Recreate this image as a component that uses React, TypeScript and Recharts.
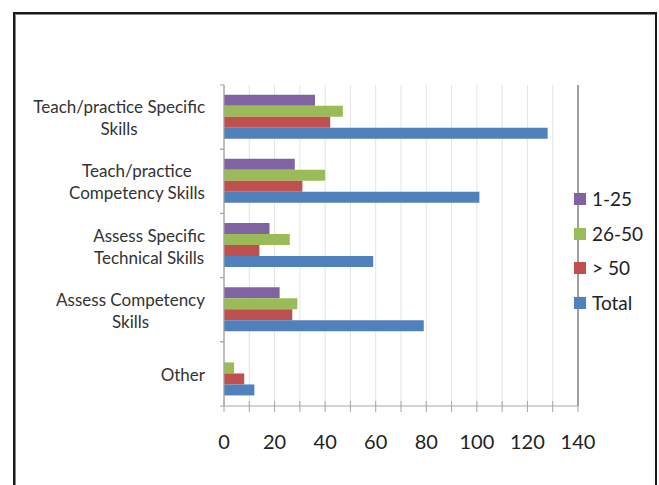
import React from 'react'
import { BarChart, Bar, XAxis, YAxis, CartesianGrid, ReferenceLine, Legend } from 'recharts'

// category labels, line breaks as in the original chart
const categories = [
  'Teach/practice Specific\nSkills',
  'Teach/practice\nCompetency Skills',
  'Assess Specific\nTechnical Skills',
  'Assess Competency\nSkills',
  'Other',
]

const seriesNames = ['1-25', '26-50', '> 50', 'Total']
const group1to25 = [36, 28, 18, 22, 0]
const group26to50 = [47, 40, 26, 29, 4]
const groupOver50 = [42, 31, 14, 27, 8]
const totals = [128, 101, 59, 79, 12]

const xTicks = [0, 10, 20, 30, 40, 50, 60, 70, 80, 90, 100, 110, 120, 130, 140]
const xMajorTicks = [0, 20, 40, 60, 80, 100, 120, 140]

const colors = ['#8064A2', '#9BBB59', '#C0504D', '#4F81BD']
const FONT = 'Lato, "Open Sans", sans-serif'

const chartData = categories.map((name, i) => ({
  name,
  s0: group1to25[i],
  s1: group26to50[i],
  s2: groupOver50[i],
  s3: totals[i],
}))

if (typeof document !== 'undefined') document.body.style.margin = '0'

let ctx: CanvasRenderingContext2D | null = null
const measure = (text: string, size: number) => {
  if (!ctx) ctx = document.createElement('canvas').getContext('2d')
  if (!ctx) return text.length * size * 0.5
  ctx.font = `${size}px Lato`
  return ctx.measureText(text).width
}

const CategoryTick = (props: any) => {
  const { x, y, payload } = props
  const lines = String(payload.value).split('\n')
  const size = 17
  const w = Math.max(...lines.map((l) => measure(l, size)))
  const cx = x - w / 2
  const lh = 22
  const half = 32.2 // half of a category band, for the boundary tick marks
  return (
    <g>
      <line x1={224 - 4} x2={224} y1={y - half} y2={y - half} stroke="#A6A6A6" />
      <line x1={224 - 4} x2={224} y1={y + half} y2={y + half} stroke="#A6A6A6" />
      {lines.map((l, i) => (
        <text
          key={i}
          x={cx}
          y={y + (i - (lines.length - 1) / 2) * lh + 7}
          textAnchor="middle"
          fontSize={size}
          fontFamily={FONT}
          fill="#333"
        >
          {l}
        </text>
      ))}
    </g>
  )
}

const ValueTick = (props: any) => {
  const { x, y, payload } = props
  const axisY = y - 8
  const v = payload.value
  return (
    <g>
      <line x1={x} x2={x} y1={axisY - 5} y2={axisY + 6} stroke="#A6A6A6" />
      {v % 20 === 0 && (
        <text x={x} y={axisY + 43} textAnchor="middle" fontSize={20} fontFamily={FONT} fill="#222">
          {v}
        </text>
      )}
    </g>
  )
}

const renderLegend = (props: any) => (
  <div>
    {(props.payload || []).map((entry: any) => (
      <div key={entry.value} style={{ display: 'flex', alignItems: 'center', height: 34.5 }}>
        <span style={{ display: 'inline-block', width: 12, height: 12, background: entry.color, marginRight: 6 }} />
        <span style={{ fontSize: 19, fontFamily: FONT, color: '#222', lineHeight: '20px' }}>{entry.value}</span>
      </div>
    ))}
  </div>
)

export default function App() {
  return (
    <div style={{ position: 'relative', width: 659, height: 485, background: '#fff', overflow: 'hidden' }}>
      <div
        style={{
          position: 'absolute',
          left: 13,
          top: 12,
          width: 640,
          height: 520,
          border: '2px solid #1a1a1a',
          boxShadow: 'inset 1px 1px 0 #888',
        }}
      />
      <div style={{ position: 'absolute', left: 0, top: 0 }}>
        <BarChart
          width={659}
          height={485}
          data={chartData}
          layout="vertical"
          margin={{ top: 85, right: 81, bottom: 39, left: 0 }}
          barCategoryGap="15%"
          barGap={0}
        >
          <CartesianGrid horizontal={false} stroke="#E4E4E4" />
          <CartesianGrid horizontal={false} xAxisId="major" stroke="#B8B8B8" />
          <XAxis
            type="number"
            domain={[0, 140]}
            ticks={xTicks}
            interval={0}
            tickSize={6}
            tickMargin={2}
            height={40}
            tickLine={false}
            axisLine={{ stroke: '#A6A6A6' }}
            tick={<ValueTick />}
          />
          <XAxis xAxisId="major" type="number" domain={[0, 140]} ticks={xMajorTicks} hide />
          <YAxis
            type="category"
            dataKey="name"
            width={224}
            tickSize={4}
            tickMargin={15}
            tickLine={false}
            axisLine={{ stroke: '#A6A6A6' }}
            interval={0}
            tick={<CategoryTick />}
          />
          <ReferenceLine x={140} stroke="#8C8C8C" strokeWidth={1.5} />
          {seriesNames.map((s, i) => (
            <Bar key={s} dataKey={`s${i}`} name={s} fill={colors[i]} isAnimationActive={false} />
          ))}
          <Legend
            layout="vertical"
            align="center"
            verticalAlign="middle"
            content={renderLegend}
            wrapperStyle={{ left: 574, top: 182, width: 80 }}
          />
        </BarChart>
      </div>
    </div>
  )
}
